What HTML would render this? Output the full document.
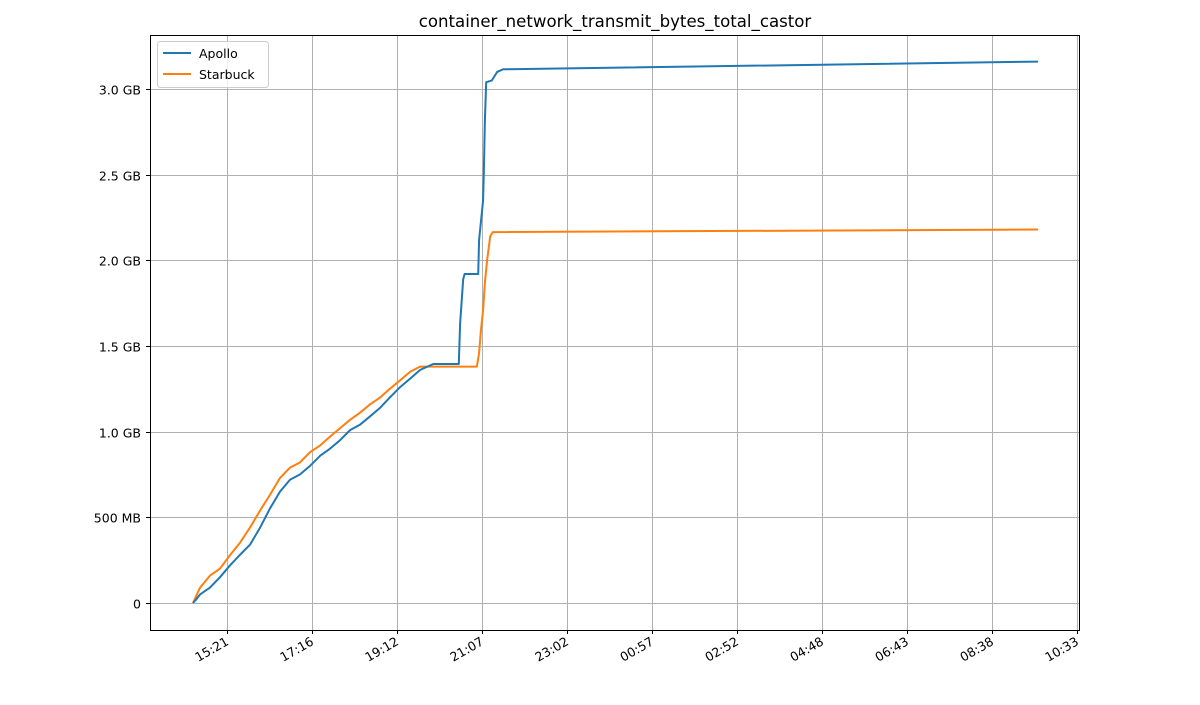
<!DOCTYPE html>
<html><head><meta charset="utf-8"><style>
body{margin:0;background:#fff;font-family:"Liberation Sans","DejaVu Sans",sans-serif}
svg text{font-family:"DejaVu Sans","Liberation Sans",sans-serif}
</style></head><body>
<svg id="c" width="1200" height="700" xmlns="http://www.w3.org/2000/svg">
<rect width="1200" height="700" fill="#fff"/>
<text x="615" y="27" text-anchor="middle" font-size="16.6">container_network_transmit_bytes_total_castor</text>
<g id="grid"></g><g id="series"></g>
<rect x="150.5" y="35.5" width="929" height="595" fill="none" stroke="#000" stroke-width="1"/>
<g id="axes"></g>
<g>
<rect x="157.5" y="41.5" width="111" height="46" rx="3" fill="#fff" fill-opacity="0.8" stroke="#ccc"/>
<line x1="163" y1="53" x2="191" y2="53" stroke="#1f77b4" stroke-width="2"/>
<text x="199" y="58" font-size="12.5">Apollo</text>
<line x1="163" y1="74" x2="191" y2="74" stroke="#ff7f0e" stroke-width="2"/>
<text x="199" y="79" font-size="12.5">Starbuck</text>
</g>
</svg>
<script>
const xTickHours=[0,1.925,3.85,5.775,7.7,9.625,11.55,13.475,15.4,17.325,19.25];
const xTickLabels=["15:21","17:16","19:12","21:07","23:02","00:57","02:52","04:48","06:43","08:38","10:33"];
const yTickValues=[0,0.5,1.0,1.5,2.0,2.5,3.0];
const yTickLabels=["0","500 MB","1.0 GB","1.5 GB","2.0 GB","2.5 GB","3.0 GB"];
const apolloHours=[-0.77,-0.70,-0.61,-0.385,-0.16,0.07,0.29,0.52,0.75,0.97,1.20,1.43,1.65,1.88,2.11,2.33,2.56,2.79,3.01,3.24,3.47,3.69,3.92,4.15,4.37,4.67,5.25,5.28,5.35,5.38,5.69,5.71,5.80,5.82,5.84,5.87,6.0,6.12,6.25,18.37];
const apolloGB=[0,0.02,0.05,0.09,0.15,0.22,0.28,0.34,0.44,0.55,0.65,0.72,0.75,0.80,0.86,0.90,0.95,1.01,1.04,1.09,1.14,1.20,1.26,1.31,1.36,1.395,1.395,1.63,1.89,1.92,1.92,2.12,2.35,2.56,2.82,3.04,3.05,3.10,3.115,3.16];
const starbuckHours=[-0.77,-0.70,-0.61,-0.385,-0.16,0.07,0.29,0.52,0.75,0.97,1.20,1.43,1.65,1.88,2.11,2.33,2.56,2.79,3.01,3.24,3.47,3.69,3.92,4.15,4.37,5.66,5.71,5.75,5.80,5.84,5.89,5.96,6.02,18.37];
const starbuckGB=[0,0.04,0.09,0.16,0.20,0.28,0.35,0.44,0.54,0.63,0.73,0.79,0.82,0.88,0.92,0.97,1.02,1.07,1.11,1.16,1.20,1.25,1.30,1.35,1.38,1.38,1.46,1.59,1.71,1.87,2.00,2.14,2.165,2.18];

const NS="http://www.w3.org/2000/svg";
const X=h=>227+h*85/1.925, Y=v=>603-v*171.33;
function mk(t,a,p){const e=document.createElementNS(NS,t);for(const k in a)e.setAttribute(k,a[k]);p.appendChild(e);return e;}
const grid=document.getElementById('grid'),axes=document.getElementById('axes'),ser=document.getElementById('series');
xTickHours.forEach((h,i)=>{const x=Math.round(X(h))+0.5;
 const g=mk('line',{x1:x,x2:x,y1:36,y2:630,stroke:'#b0b0b0','stroke-width':1},grid);
 
 
 const t=mk('line',{x1:x,x2:x,y1:630,y2:634,stroke:'#000'},axes);
 
 
 const l=mk('text',{x:x+2,y:644,'font-size':12.5,'text-anchor':'end',transform:`rotate(-30 ${x+2} 644)`},axes);
 l.textContent=xTickLabels[i];
 
 
});
yTickValues.forEach((v,i)=>{const y=Math.round(Y(v))+0.5;
 const g=mk('line',{x1:151,x2:1079,y1:y,y2:y,stroke:'#b0b0b0','stroke-width':1},grid);
 
 
 const t=mk('line',{x1:146,x2:150,y1:y,y2:y,stroke:'#000'},axes);
 
 
 const l=mk('text',{x:141,y:y+5,'font-size':12.5,'text-anchor':'end'},axes);
 l.textContent=yTickLabels[i];
 
 
});
function line(hs,vs,col,name){const d=hs.map((h,i)=>(i?'L':'M')+X(h).toFixed(1)+','+Y(vs[i]).toFixed(1)).join('');
 const p=mk('path',{d,fill:'none',stroke:col,'stroke-width':2,'stroke-linejoin':'round'},ser);
 
 }
line(starbuckHours,starbuckGB,'#ff7f0e','starbuck-line');
line(apolloHours,apolloGB,'#1f77b4','apollo-line');
</script>
</body></html>
